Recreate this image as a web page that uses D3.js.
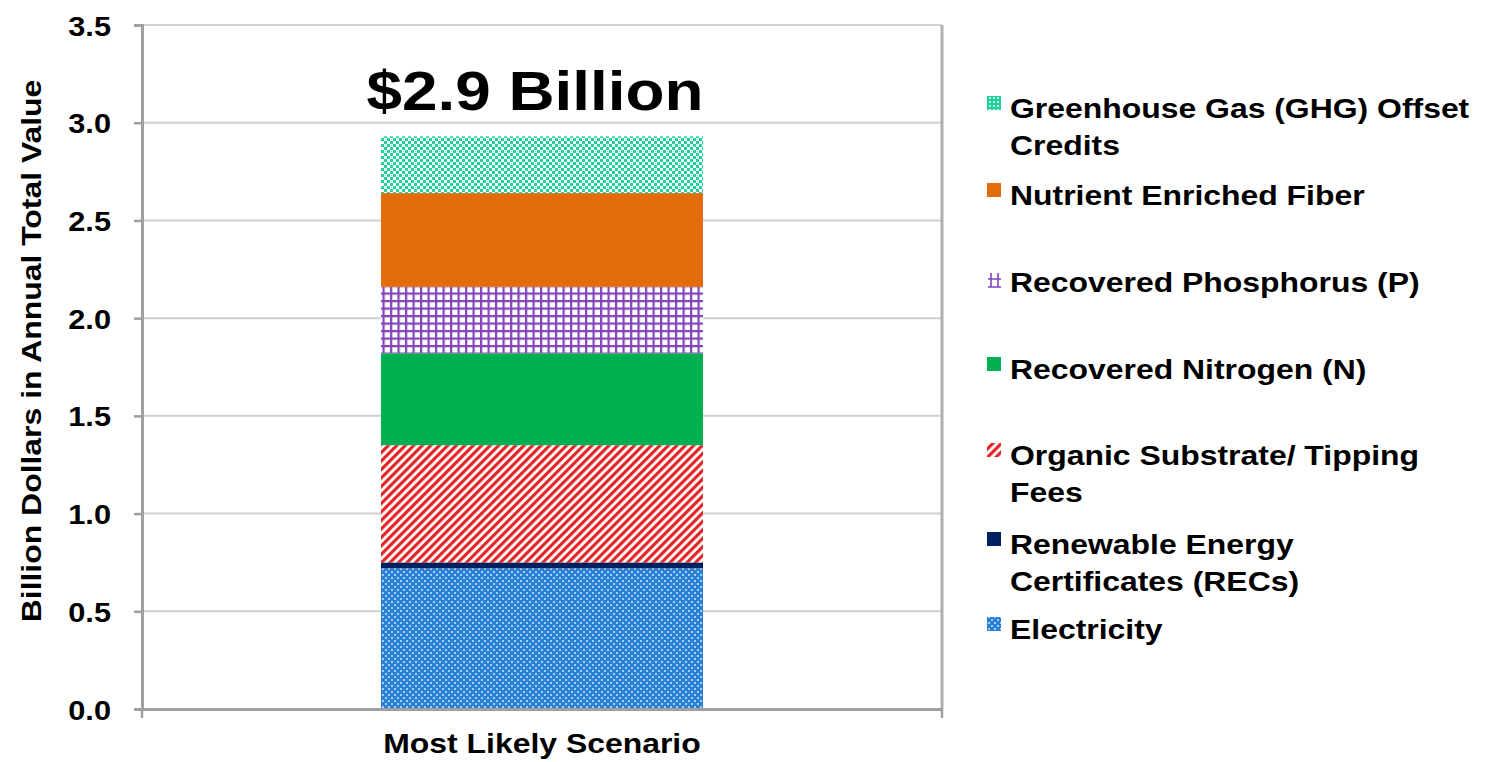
<!DOCTYPE html>
<html><head><meta charset="utf-8">
<script src="https://cdn.jsdelivr.net/npm/d3@7/dist/d3.min.js"></script>
<style>body{margin:0;background:#fff}svg{display:block}text{font-family:"Liberation Sans",Arial,sans-serif;font-weight:bold;fill:#000}</style>
</head><body><svg id="c" width="1486" height="762"></svg>
<script>
const categories = ["Most Likely Scenario"];
const seriesNames = ["Electricity","Renewable Energy Certificates (RECs)","Organic Substrate/ Tipping Fees","Recovered Nitrogen (N)","Recovered Phosphorus (P)","Nutrient Enriched Fiber","Greenhouse Gas (GHG) Offset Credits"];
const seriesValues = [0.72, 0.03, 0.60, 0.47, 0.34, 0.48, 0.29];
const legendLines = [["Greenhouse Gas (GHG) Offset","Credits"],["Nutrient Enriched Fiber"],["Recovered Phosphorus (P)"],["Recovered Nitrogen (N)"],["Organic Substrate/ Tipping","Fees"],["Renewable Energy","Certificates (RECs)"],["Electricity"]];
const yTicks = [0,0.5,1.0,1.5,2.0,2.5,3.0,3.5];
const totalLabel = "$2.9 Billion";
const yTitle = "Billion Dollars in Annual Total Value";

const SX = 1.14; // horizontal stretch of the reference's text
const svg = d3.select("#c");
const defs = svg.append("defs");
function pat(id,w,h,build){const p=defs.append("pattern").attr("id",id).attr("patternUnits","userSpaceOnUse").attr("width",w).attr("height",h);build(p);}
pat("pElec",6,6,p=>{p.append("rect").attr("width",6).attr("height",6).attr("fill","#2a80d6");p.append("rect").attr("x",1).attr("y",1).attr("width",2).attr("height",2).attr("fill","#a6cff2");p.append("rect").attr("x",4).attr("y",4).attr("width",2).attr("height",2).attr("fill","#a6cff2");});
pat("pGhg",6,6,p=>{p.append("rect").attr("width",6).attr("height",6).attr("fill","#1fd09b");p.append("rect").attr("x",0).attr("y",0).attr("width",3).attr("height",3).attr("fill","#ffffff");p.append("rect").attr("x",3).attr("y",3).attr("width",3).attr("height",3).attr("fill","#ffffff");p.append("rect").attr("x",1).attr("y",1).attr("width",1).attr("height",1).attr("fill","#7fe6c6");});
pat("pP",7.5,7.5,p=>{p.append("rect").attr("width",7.5).attr("height",7.5).attr("fill","#fff");p.append("rect").attr("width",2.2).attr("height",7.5).attr("fill","#8244b8");p.append("rect").attr("width",7.5).attr("height",2.2).attr("fill","#8244b8");});
pat("pOrg",6,6,p=>{p.attr("patternTransform","rotate(-45)");p.append("rect").attr("width",6).attr("height",6).attr("fill","#fff");p.append("rect").attr("width",6).attr("height",3.2).attr("fill","#e02626");});
pat("pGhgL",4,4,p=>{p.append("rect").attr("width",4).attr("height",4).attr("fill","#1fd09b");p.append("circle").attr("cx",2).attr("cy",2).attr("r",1).attr("fill","#fff");});
const fills = ["url(#pElec)","#002060","url(#pOrg)","#00b050","url(#pP)","#e36c0a","url(#pGhg)"];

const x0=142,x1=942,yTop=25,yBot=709;
const y = d3.scaleLinear().domain([0,3.5]).range([yBot,yTop]);
const x = d3.scaleBand().domain(categories).range([x0,x1]).paddingInner(0.6).paddingOuter(0.3);

svg.append("g").selectAll("line").data(yTicks.filter(d=>d>0)).join("line")
 .attr("x1",x0).attr("x2",x1).attr("y1",d=>y(d)).attr("y2",d=>y(d)).attr("stroke","#d0d0d0").attr("stroke-width",2);
svg.append("line").attr("x1",x1).attr("x2",x1).attr("y1",yTop).attr("y2",yBot).attr("stroke","#b0b0b0").attr("stroke-width",3);

let cum=0;
const stack = seriesValues.map((v,i)=>{const s={i,y0:cum,y1:cum+v};cum+=v;return s;});
const bw = 322;
const bx = x(categories[0]) + (x.bandwidth()-bw)/2;
svg.append("g").selectAll("rect").data(stack).join("rect")
 .attr("x",bx).attr("width",bw)
 .attr("y",d=>y(d.y1)).attr("height",d=>y(d.y0)-y(d.y1))
 .attr("fill",d=>fills[d.i]);

// y axis
const yAxis = d3.axisLeft(y).tickValues(yTicks).tickFormat(d3.format(".1f")).tickSize(8).tickPadding(0);
const gy = svg.append("g").attr("transform",`translate(${x0},0)`).call(yAxis);
gy.select(".domain").attr("stroke","#a0a0a0").attr("stroke-width",3);
gy.selectAll(".tick line").attr("stroke","#a0a0a0").attr("stroke-width",2.5);
gy.selectAll(".tick text").attr("x",null).attr("dy",null)
  .attr("transform",`translate(-31,10) scale(${SX},1)`)
  .style("font-size","27px").style("font-weight","bold").style("font-family","Liberation Sans, Arial");

// x axis
const xAxis = d3.axisBottom(x).tickSize(0).tickPadding(0);
const gx = svg.append("g").attr("transform",`translate(0,${yBot})`).call(xAxis);
gx.select(".domain").attr("stroke","#a0a0a0").attr("stroke-width",3);
gx.selectAll(".tick text").attr("y",null).attr("dy",null)
  .attr("transform",`translate(0,44) scale(${SX},1)`)
  .style("font-size","28px").style("font-weight","bold").style("font-family","Liberation Sans, Arial");
svg.append("g").selectAll("line").data([x0,x1]).join("line")
 .attr("x1",d=>d).attr("x2",d=>d).attr("y1",yBot).attr("y2",yBot+9).attr("stroke","#a0a0a0").attr("stroke-width",2.5);

// y title
svg.append("text").attr("transform",`translate(41,351) rotate(-90) scale(${SX},1)`).attr("text-anchor","middle").style("font-size","28px").text(yTitle);

// total label
svg.append("text").attr("transform",`translate(${bx+bw/2-7},110) scale(${SX},1)`).attr("text-anchor","middle").style("font-size","56px").text(totalLabel);

// legend
const legendY = [108,195,282,369,455,544,629];
const legendFills = ["url(#pGhgL)","#e36c0a",null,"#00b050","url(#pOrg)","#002060","url(#pElec)"];
const lg = svg.append("g");
legendLines.forEach((lines,k)=>{
  const yy = legendY[k];
  const g = lg.append("g");
  if(k===2){
    g.append("path").attr("d",`M988,${yy-3} H1001 M988,${yy+5} H1001 M991,${yy-9} V${yy+5} M998,${yy-9} V${yy+5}`).attr("stroke","#8244b8").attr("stroke-width",1.6).attr("fill","none");
  } else {
    g.append("rect").attr("x",987).attr("y",yy-12).attr("width",14).attr("height",14).attr("fill",legendFills[k]);
  }
  lines.forEach((t,j)=>{
    g.append("text").attr("transform",`translate(1010,${yy+10+j*36.5}) scale(${SX},1)`).style("font-size","28px").text(t);
  });
});
</script></body></html>
